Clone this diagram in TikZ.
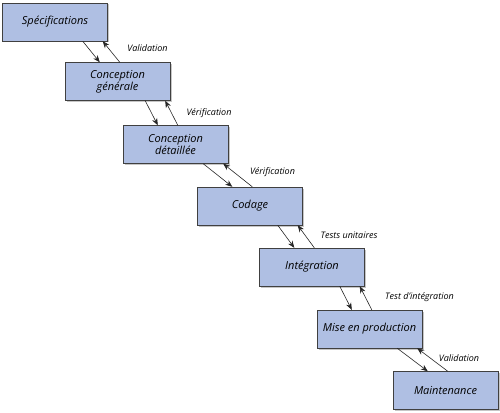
\documentclass[tikz,border=0pt]{standalone}
\usepackage{fontspec}
\setmainfont{Open Sans}
\usetikzlibrary{positioning}
\usetikzlibrary{calc}
\usetikzlibrary{arrows.meta}
\usetikzlibrary{shadows}
\definecolor{phase}{RGB}{175,191,227}
\definecolor{edge}{RGB}{64,64,64}

\begin{document}
\begin{tikzpicture}
    [x=1pt, y=-1pt,
    stage/.style={rectangle, fill=phase, draw=edge, minimum width=105pt, minimum height=38pt, inner sep=2pt,
        align=center, font=\itshape\fontsize{11}{10}\selectfont,
        drop shadow={shadow xshift=1.5pt, shadow yshift=-1.5pt, fill=gray!45, opacity=1}},
    retour/.style={font=\itshape\fontsize{9}{10}\selectfont, inner sep=0pt},
    link/.style={-{Stealth[length=7pt, width=5.5pt]}, semithick, draw=black!85}]
    \useasboundingbox (0,0) rectangle (500,412);
    %\draw[step=50pt,gray,very thin] (0,0) grid (500,412);
    \node[stage] (spec)  at (55, 22)     {Spécifications};
    \node[stage] (cgen)  at (117.5, 81.5) {Conception\\générale};
    \node[stage] (cdet)  at (175.5, 144.5) {Conception\\détaillée};
    \node[stage] (code)  at (250, 206)   {Codage};
    \node[stage] (integ) at (312, 267)   {Intégration};
    \node[stage] (prod)  at (369.5, 329) {Mise en production};
    \node[stage] (maint) at (445.5, 390.5) {Maintenance};
    \node[retour] (v1) at (147.5, 48)  {Validation};
    \node[retour] (v2) at (209, 113)   {Vérification};
    \node[retour] (v3) at (272.5, 172) {Vérification};
    \node[retour] (v4) at (349, 235)   {Tests unitaires};
    \node[retour] (v5) at (419.5, 297) {Test d'intégration};
    \node[retour] (v6) at (459, 358)   {Validation};
    \foreach \a/\b in {spec/cgen, cgen/cdet, cdet/code, code/integ, integ/prod, prod/maint}
    {
        \draw[link] ($(\a.south east)+(-25,0)$) -- ($(\b.north west)+(35,0)$);
        \draw[link] ($(\b.north west)+(55,0)$) -- ($(\a.south east)+(-5,0)$);
    }
\end{tikzpicture}
\end{document}
